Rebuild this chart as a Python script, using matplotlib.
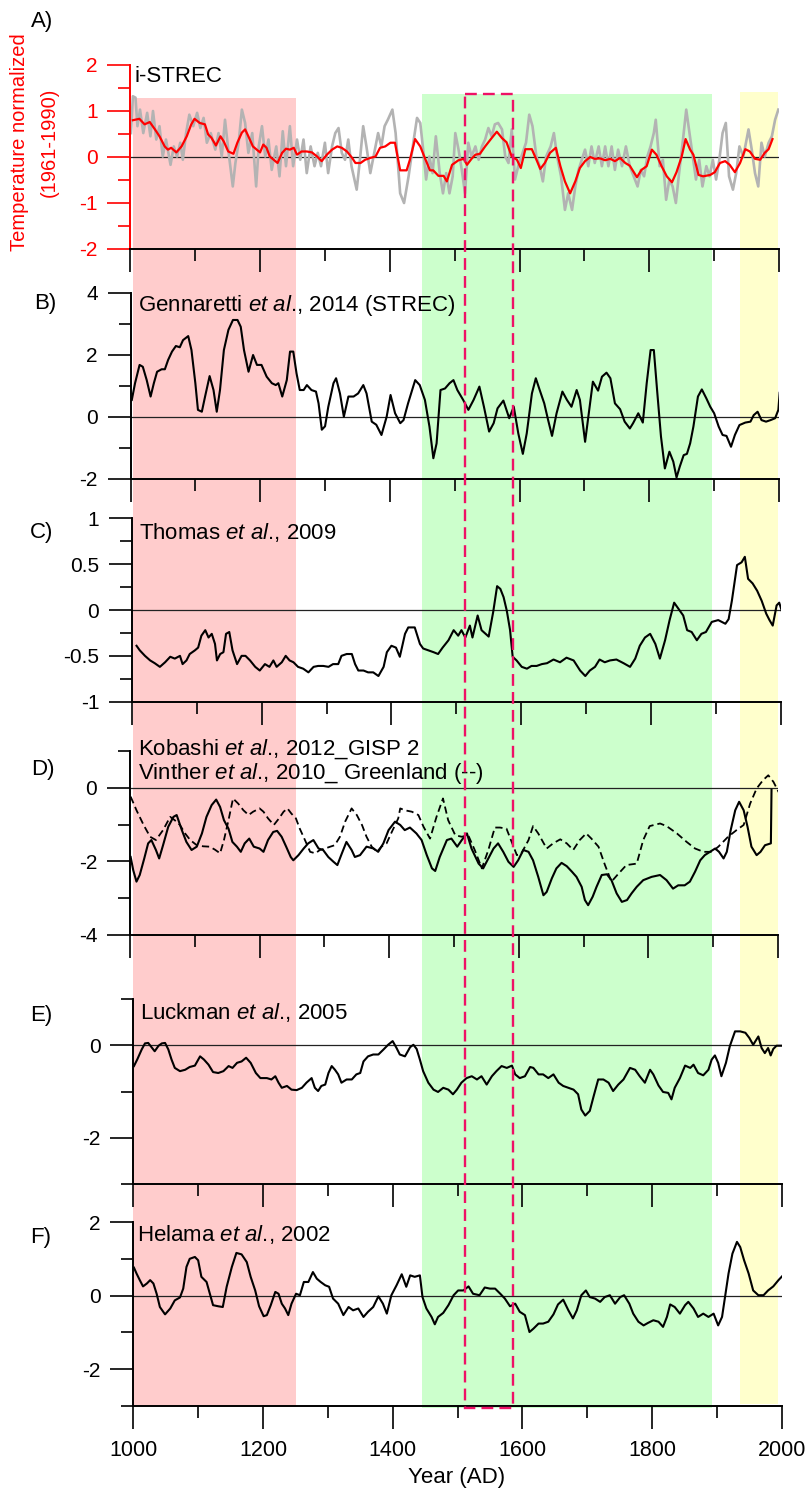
import matplotlib
matplotlib.use('Agg')
import matplotlib.pyplot as plt
from matplotlib.patches import Rectangle
from matplotlib.ticker import MultipleLocator, FuncFormatter

plt.rcParams['font.family'] = ['Liberation Sans', 'DejaVu Sans']
plt.rcParams['mathtext.fontset'] = 'custom'
plt.rcParams['mathtext.rm'] = 'Liberation Sans'
plt.rcParams['mathtext.it'] = 'Liberation Sans:italic'
plt.rcParams['axes.unicode_minus'] = False

# ---------------- data (year, value) ----------------
A_GRAY = [(1001,0.52),(1004,1.32),(1008,1.29),(1011,0.67),(1015,1.03),(1020,0.52),(1026,0.96),(1031,0.45),(1035,1.00),(1040,0.38),
          (1045,0.67),(1050,0.01),(1055,0.38),(1062,-0.17),(1067,0.23),(1072,0.01),(1077,0.31),(1081,-0.06),(1086,0.52),(1091,0.92),
          (1097,0.67),(1103,0.96),(1108,0.63),(1113,0.85),(1118,0.31),(1124,0.52),(1131,0.16),(1136,0.52),(1141,0.01),(1146,0.81),
          (1151,0.16),(1158,-0.64),(1162,-0.13),(1167,0.31),(1172,1.03),(1177,0.74),(1182,0.09),(1188,0.52),(1194,-0.64),(1198,0.23),
          (1203,0.67),(1208,0.01),(1213,0.38),(1218,-0.28),(1225,0.23),(1230,-0.42),(1235,0.56),(1240,-0.20),(1246,0.67),(1251,-0.20),
          (1257,0.38),(1262,-0.06),(1267,0.38),(1272,-0.35),(1278,0.23),(1284,-0.20),(1289,0.09),(1294,-0.20),(1300,0.31),(1305,-0.35),
          (1311,0.23),(1316,0.52),(1321,0.63),(1326,0.09),(1331,-0.06),(1336,0.38),(1341,-0.20),(1349,-0.71),(1354,-0.06),(1359,0.67),
          (1364,0.23),(1370,-0.35),(1375,0.01),(1382,0.52),(1387,0.23),(1392,0.67),(1397,0.81),(1404,1.03),(1409,0.52),
          (1416,-0.79),(1422,-1.00),(1429,-0.42),(1437,0.38),(1442,0.85),(1447,0.74),(1452,0.09),(1456,-0.49),(1461,0.01),(1466,-0.35),
          (1471,0.45),(1477,-0.35),(1482,-0.79),(1487,-0.35),(1492,-0.79),(1497,-0.42),(1501,0.52),(1506,0.16),(1511,-0.28),(1516,-0.79),
          (1521,0.31),(1526,0.01),(1532,0.23),(1537,-0.06),(1542,0.23),(1547,0.38),(1552,0.63),(1557,0.45),(1562,0.71),(1567,0.74),
          (1573,0.60),(1578,0.01),(1583,-0.13),(1588,0.60),(1593,-0.49),(1598,-0.20),(1603,0.01),(1610,0.31),(1615,0.92),(1620,0.67),
          (1626,0.01),(1631,-0.20),(1636,-0.53),(1641,0.01),(1648,0.23),(1653,0.52),(1658,0.01),(1664,-0.42),(1670,-1.15),(1675,-0.79),
          (1681,-1.15),(1686,-0.64),(1691,-0.28),(1696,-0.06),(1701,0.16),(1706,-0.20),(1711,0.23),(1716,-0.13),(1722,0.23),(1727,-0.20),
          (1732,0.23),(1737,-0.20),(1742,0.23),(1747,-0.28),(1752,0.16),(1758,-0.20),(1764,0.23),(1770,-0.20),(1776,-0.42),(1782,-0.64),
          (1787,-0.28),(1792,-0.42),(1797,0.01),(1802,0.23),(1807,0.52),(1810,0.81),(1816,-0.20),(1821,-0.06),(1826,-0.93),(1831,-0.49),
          (1836,-0.64),(1841,-1.00),(1846,-0.35),(1852,0.38),(1857,1.03),(1862,0.52),(1867,0.01),(1872,-0.49),(1877,-0.06),(1882,-0.64),
          (1888,-0.20),(1893,-0.42),(1898,-0.06),(1903,-0.49),(1908,-0.06),(1913,0.52),(1918,0.74),(1923,-0.42),(1929,-0.71),(1934,-0.35),
          (1939,0.23),(1945,0.01),(1953,0.60),(1958,0.16),(1963,-0.35),(1968,-0.64),(1973,0.31),(1978,0.01),(1984,0.31),(1989,0.45),
          (1994,0.81),(1999,1.03)]

A_RED = [(1004,0.80),(1014,0.83),(1022,0.71),(1030,0.76),(1038,0.60),(1045,0.45),(1053,0.23),(1058,0.16),(1063,0.20),(1071,0.10),
         (1079,0.23),(1087,0.45),(1094,0.71),(1099,0.83),(1107,0.74),(1115,0.71),(1120,0.49),(1125,0.42),(1132,0.25),(1139,0.45),
         (1144,0.34),(1151,0.12),(1159,0.07),(1165,0.31),(1172,0.53),(1177,0.60),(1182,0.45),(1189,0.23),(1195,0.16),(1200,0.10),
         (1205,0.27),(1210,0.20),(1215,0.01),(1221,-0.06),(1227,-0.13),(1234,0.09),(1240,0.18),(1246,0.16),(1252,0.20),(1257,0.05),
         (1264,0.12),(1272,0.12),(1280,0.10),(1288,0.01),(1295,-0.09),(1303,0.05),(1311,0.16),(1319,0.23),(1326,0.20),(1334,0.12),
         (1342,-0.02),(1347,-0.13),(1355,-0.13),(1362,-0.06),(1370,-0.02),(1378,0.01),(1385,0.20),(1393,0.23),(1401,0.31),(1408,0.31),
         (1416,-0.29),(1426,-0.29),(1431,-0.06),(1439,0.39),(1447,0.23),(1454,-0.02),(1462,-0.29),(1467,-0.29),(1475,-0.41),(1483,-0.41),
         (1488,-0.53),(1496,-0.17),(1506,-0.07),(1514,-0.04),(1519,-0.17),(1526,-0.04),(1532,0.05),(1539,0.07),(1547,0.23),(1557,0.41),
         (1565,0.55),(1573,0.41),(1580,0.32),(1588,0.01),(1596,-0.06),(1602,-0.24),(1609,0.17),(1619,0.17),(1627,-0.09),(1632,-0.26),
         (1639,-0.13),(1647,0.09),(1656,0.20),(1663,-0.20),(1670,-0.53),(1678,-0.79),(1686,-0.53),(1693,-0.24),(1701,-0.09),(1709,0.00),
         (1716,-0.04),(1724,-0.03),(1732,-0.07),(1740,-0.04),(1747,-0.09),(1755,-0.02),(1763,-0.13),(1770,-0.19),(1781,-0.44),(1788,-0.28),
         (1796,-0.20),(1804,0.16),(1811,0.05),(1819,-0.20),(1827,-0.42),(1835,-0.55),(1842,-0.33),(1850,0.01),(1856,0.39),(1863,0.16),
         (1868,0.05),(1876,-0.39),(1883,-0.42),(1894,-0.39),(1901,-0.33),(1909,-0.13),(1917,-0.09),(1924,-0.17),(1932,-0.33),(1940,-0.13),
         (1948,0.17),(1955,0.12),(1963,-0.04),(1971,-0.06),(1978,0.09),(1984,0.17),(1990,0.39)]

B_STREC = [(1002,0.55),(1007,1.09),(1014,1.68),(1019,1.62),(1025,1.19),(1031,0.66),(1036,1.09),(1041,1.46),(1048,1.54),(1053,1.54),
           (1058,1.84),(1064,2.11),(1070,2.29),(1076,2.25),(1081,2.48),(1089,2.61),(1094,2.16),(1100,1.09),(1104,0.23),(1110,0.17),
           (1115,0.66),(1122,1.32),(1128,0.87),(1133,0.17),(1138,0.87),(1144,2.16),(1151,2.81),(1158,3.13),(1165,3.13),(1170,2.91),
           (1175,2.16),(1182,1.46),(1189,2.00),(1195,1.68),(1202,1.68),(1210,1.30),(1218,1.09),(1224,1.03),(1228,1.09),(1234,0.66),
           (1241,1.19),(1246,2.11),(1251,2.11),(1256,1.41),(1261,0.87),(1267,0.87),(1272,1.03),(1279,0.87),(1286,0.82),(1290,0.44),
           (1295,-0.41),(1300,-0.30),(1305,0.33),(1313,1.09),(1317,1.25),(1323,0.76),(1329,0.01),(1336,0.66),(1344,0.66),(1351,0.76),
           (1359,1.03),(1364,0.76),(1372,-0.15),(1379,-0.25),(1387,-0.58),(1395,0.01),(1401,0.71),(1408,0.12),
           (1416,-0.20),(1421,-0.10),(1428,0.44),(1439,1.19),(1446,1.03),(1454,0.55),(1461,-0.31),(1467,-1.33),(1472,-0.85),(1478,0.87),
           (1485,0.92),(1492,1.09),(1498,1.19),(1504,0.87),(1513,0.55),(1521,0.23),(1529,0.55),(1538,0.98),(1545,0.33),(1553,-0.47),
           (1560,-0.20),(1566,0.28),(1575,0.53),(1584,-0.04),(1591,0.33),(1598,-0.53),(1605,-1.19),(1611,-0.53),(1619,0.76),(1625,1.25),
           (1631,0.87),(1638,0.44),(1644,-0.10),(1650,-0.61),(1657,0.12),(1666,0.82),(1673,0.55),(1680,0.33),(1688,0.87),(1693,0.55),
           (1701,-0.80),(1706,0.01),(1713,1.14),(1721,0.85),(1727,1.30),(1734,1.43),(1740,1.25),(1747,0.44),(1755,0.25),(1762,-0.15),
           (1770,-0.37),(1775,-0.20),(1783,0.12),(1790,-0.18),(1796,1.09),(1802,2.16),(1807,2.16),(1812,0.87),(1818,-0.63),(1824,-1.66),
           (1831,-1.12),(1837,-1.44),(1842,-1.95),(1847,-1.60),(1853,-1.23),(1858,-1.19),(1863,-0.85),(1868,-0.31),(1875,0.66),(1881,0.89),
           (1888,0.60),(1894,0.33),(1900,0.12),(1907,-0.31),(1913,-0.58),(1919,-0.61),(1926,-0.96),(1932,-0.58),(1939,-0.26),(1948,-0.18),
           (1956,-0.15),(1961,0.06),(1967,0.17),(1973,-0.10),(1980,-0.15),(1987,-0.10),(1994,-0.04),(1999,0.23),(2001,0.78)]

C_THOMAS = [(1007,-0.39),(1012,-0.44),(1020,-0.50),(1028,-0.55),(1035,-0.58),(1043,-0.62),(1051,-0.57),(1059,-0.51),(1066,-0.53),(1074,-0.50),
            (1078,-0.59),(1084,-0.55),(1089,-0.48),(1097,-0.44),(1102,-0.41),(1107,-0.28),(1113,-0.22),(1118,-0.30),(1123,-0.26),(1128,-0.37),
            (1131,-0.55),(1136,-0.48),(1141,-0.46),(1145,-0.26),(1150,-0.24),(1155,-0.44),(1162,-0.59),(1169,-0.50),(1175,-0.50),(1182,-0.55),
            (1190,-0.62),(1197,-0.66),(1205,-0.59),(1212,-0.62),(1218,-0.55),(1223,-0.62),(1231,-0.57),(1237,-0.50),(1243,-0.55),(1249,-0.57),
            (1256,-0.62),(1264,-0.64),(1272,-0.68),(1280,-0.62),(1287,-0.61),(1295,-0.61),(1303,-0.62),(1310,-0.59),(1318,-0.59),(1323,-0.50),
            (1331,-0.48),(1339,-0.48),(1344,-0.59),(1349,-0.66),(1357,-0.66),(1364,-0.68),(1372,-0.68),(1380,-0.72),(1388,-0.62),(1393,-0.46),
            (1400,-0.39),(1407,-0.41),
            (1413,-0.51),(1421,-0.26),(1426,-0.19),(1436,-0.19),(1444,-0.37),(1449,-0.42),(1457,-0.44),(1465,-0.46),(1472,-0.48),(1479,-0.41),
            (1488,-0.33),(1496,-0.22),(1503,-0.28),(1508,-0.22),(1514,-0.30),(1521,-0.17),(1525,-0.30),(1533,-0.06),(1539,-0.22),(1550,-0.29),
            (1557,-0.02),(1563,0.26),(1568,0.23),(1573,0.14),(1578,-0.01),(1583,-0.22),(1587,-0.51),(1593,-0.55),(1601,-0.62),(1609,-0.64),
            (1616,-0.61),(1624,-0.61),(1632,-0.59),(1640,-0.58),(1650,-0.54),(1660,-0.57),(1670,-0.52),(1681,-0.55),(1691,-0.66),(1699,-0.72),
            (1706,-0.66),(1714,-0.62),(1721,-0.54),(1729,-0.57),(1737,-0.55),(1747,-0.54),(1758,-0.58),(1768,-0.62),(1776,-0.53),(1783,-0.39),
            (1791,-0.30),(1799,-0.26),(1807,-0.37),(1814,-0.53),(1822,-0.33),(1829,-0.11),(1836,0.08),(1843,0.01),(1850,-0.06),(1856,-0.22),
            (1863,-0.24),(1871,-0.33),(1878,-0.26),(1885,-0.24),(1894,-0.13),(1904,-0.11),(1915,-0.15),(1920,-0.10),(1925,0.10),(1933,0.49),
            (1940,0.52),(1945,0.58),(1950,0.34),(1957,0.29),(1964,0.21),(1971,0.10),(1978,-0.04),(1983,-0.11),(1988,-0.17),(1994,0.05),
            (1998,0.08),(2002,-0.01)]

D_KOBASHI = [(1001,-1.88),(1005,-2.24),(1010,-2.55),(1015,-2.37),(1022,-1.92),(1028,-1.51),(1033,-1.42),(1040,-1.69),(1045,-1.92),(1051,-1.56),
             (1059,-1.06),(1067,-0.79),(1072,-0.74),(1080,-1.15),(1087,-1.47),(1095,-1.69),(1103,-1.60),(1111,-1.24),(1118,-0.79),(1126,-0.47),
             (1133,-0.32),(1139,-0.52),(1145,-0.88),(1152,-1.11),(1158,-1.47),(1165,-1.60),(1171,-1.74),(1177,-1.51),(1184,-1.38),(1191,-1.60),
             (1200,-1.65),(1206,-1.74),(1213,-1.42),(1221,-1.20),(1227,-1.17),(1234,-1.33),(1241,-1.60),(1248,-1.88),(1252,-1.97),(1260,-1.83),
             (1268,-1.65),(1275,-1.51),(1283,-1.42),(1291,-1.65),(1298,-1.69),(1306,-1.88),(1314,-2.01),(1320,-2.10),(1327,-1.78),(1334,-1.47),
             (1342,-1.69),(1347,-1.88),(1355,-1.83),(1365,-1.60),(1376,-1.65),(1383,-1.74),(1391,-1.51),(1399,-1.15),(1409,-0.92),
             (1417,-1.01),(1424,-1.15),(1432,-1.08),(1442,-1.24),(1450,-1.42),(1458,-1.83),(1466,-2.19),(1471,-2.26),(1478,-1.88),(1489,-1.42),
             (1496,-1.38),(1505,-1.60),(1512,-1.42),(1520,-1.24),(1527,-1.65),(1538,-2.06),(1545,-2.19),(1553,-1.92),(1561,-1.65),(1568,-1.51),
             (1576,-1.74),(1584,-2.01),(1592,-2.15),(1599,-1.97),(1607,-1.69),(1615,-1.74),(1622,-1.97),(1630,-2.42),(1638,-2.92),(1643,-2.83),
             (1651,-2.46),(1658,-2.19),(1666,-2.04),(1674,-2.13),(1682,-2.28),(1689,-2.42),(1697,-2.69),(1702,-3.05),(1707,-3.19),(1714,-2.96),
             (1720,-2.69),(1728,-2.37),(1736,-2.35),(1743,-2.51),(1751,-2.87),(1759,-3.10),(1767,-3.05),(1774,-2.87),(1782,-2.69),(1792,-2.51),
             (1805,-2.42),(1818,-2.37),(1828,-2.51),(1838,-2.74),(1846,-2.65),(1856,-2.65),(1864,-2.55),(1872,-2.28),(1880,-1.97),(1887,-1.83),
             (1895,-1.74),(1903,-1.65),(1909,-1.74),(1916,-1.92),(1921,-1.74),(1927,-1.15),(1934,-0.61),(1940,-0.38),(1947,-0.61),(1953,-1.06),
             (1959,-1.60),(1967,-1.83),(1973,-1.74),(1980,-1.56),(1989,-1.51),(1990,-0.05)]

D_VINTHER = [(1001,-0.24),(1010,-0.61),(1021,-1.01),(1031,-1.33),(1040,-1.42),(1051,-1.15),(1062,-0.79),(1069,-0.88),(1077,-1.01),(1085,-1.24),
             (1093,-1.42),(1103,-1.56),(1113,-1.59),(1123,-1.60),(1131,-1.68),(1139,-1.78),(1145,-1.42),(1152,-0.88),(1159,-0.29),(1167,-0.43),
             (1175,-0.61),(1183,-0.74),(1190,-0.65),(1200,-0.56),(1206,-0.65),(1213,-0.83),(1222,-1.01),(1230,-0.83),(1237,-0.65),(1243,-0.56),
             (1249,-0.70),(1256,-0.83),(1262,-1.11),(1270,-1.42),(1278,-1.74),(1286,-1.78),(1293,-1.69),(1301,-1.65),(1309,-1.60),(1316,-1.56),
             (1324,-1.33),(1332,-0.92),(1342,-0.56),(1350,-0.74),(1358,-1.01),(1365,-1.33),(1373,-1.60),(1381,-1.74),(1388,-1.60),(1396,-1.51),
             (1404,-1.20),(1414,-0.83),
             (1417,-0.56),(1424,-0.61),(1435,-0.65),(1445,-0.74),(1453,-1.06),(1463,-1.38),(1473,-0.79),(1483,-0.29),(1491,-0.88),(1502,-1.29),
             (1512,-1.33),(1522,-1.29),(1532,-1.69),(1543,-2.19),(1553,-1.69),(1563,-1.08),(1571,-1.08),(1581,-1.11),(1589,-1.47),(1597,-1.83),
             (1604,-1.78),(1615,-1.42),(1622,-1.04),(1630,-1.24),(1643,-1.65),(1653,-1.51),(1664,-1.40),(1674,-1.51),(1684,-1.69),(1694,-1.42),
             (1704,-1.24),(1712,-1.38),(1723,-1.60),(1733,-2.10),(1743,-2.55),(1754,-2.33),(1766,-2.10),(1782,-2.06),(1792,-1.42),(1802,-1.04),
             (1818,-0.97),(1828,-1.04),(1844,-1.24),(1859,-1.47),(1872,-1.65),(1885,-1.74),(1898,-1.74),(1908,-1.60),(1923,-1.33),(1936,-1.15),
             (1947,-1.01),(1957,-0.43),(1967,-0.02),(1977,0.21),(1985,0.34),(1993,0.16),(2002,-0.15)]

E_LUCKMAN = [(1001,-0.45),(1006,-0.31),(1013,-0.09),(1018,0.04),(1023,0.05),(1028,-0.04),(1033,-0.13),(1039,-0.01),(1044,0.04),(1049,0.05),
             (1054,-0.09),(1059,-0.31),(1064,-0.49),(1072,-0.56),(1080,-0.53),(1087,-0.47),(1095,-0.44),(1103,-0.24),(1109,-0.31),(1116,-0.42),
             (1123,-0.58),(1131,-0.60),(1139,-0.56),(1147,-0.45),(1153,-0.49),(1160,-0.38),(1167,-0.35),(1174,-0.27),(1181,-0.38),(1189,-0.60),
             (1196,-0.71),(1206,-0.71),(1213,-0.74),(1219,-0.67),(1224,-0.81),(1229,-0.92),(1237,-0.88),(1244,-0.96),(1252,-0.97),(1260,-0.92),
             (1267,-0.81),(1275,-0.71),(1280,-0.92),(1285,-0.99),(1290,-0.88),(1296,-0.85),(1301,-0.60),(1306,-0.45),(1311,-0.53),(1316,-0.63),
             (1321,-0.81),(1329,-0.74),(1337,-0.74),(1344,-0.63),(1350,-0.60),(1355,-0.35),(1362,-0.24),(1370,-0.20),(1378,-0.20),(1386,-0.09),
             (1393,0.01),(1400,0.09),(1406,-0.06),
             (1411,-0.20),(1419,-0.24),(1427,-0.04),(1432,0.01),(1437,-0.08),(1442,-0.31),(1447,-0.56),(1455,-0.81),(1463,-0.96),(1470,-1.01),
             (1478,-0.92),(1486,-0.96),(1493,-1.06),(1499,-0.96),(1506,-0.81),(1514,-0.71),(1522,-0.67),(1530,-0.74),(1537,-0.67),(1545,-0.85),
             (1553,-0.67),(1560,-0.56),(1568,-0.45),(1576,-0.49),(1584,-0.44),(1589,-0.63),(1596,-0.71),(1604,-0.67),(1612,-0.47),(1617,-0.49),
             (1625,-0.63),(1632,-0.63),(1640,-0.71),(1648,-0.63),(1656,-0.81),(1663,-0.88),(1671,-0.92),(1679,-0.96),(1686,-1.06),(1691,-1.39),
             (1697,-1.52),(1704,-1.42),(1710,-1.10),(1717,-0.74),(1725,-0.74),(1733,-0.81),(1740,-0.99),(1748,-0.85),(1756,-0.74),(1766,-0.49),
             (1774,-0.53),(1781,-0.67),(1789,-0.81),(1797,-0.53),(1802,-0.63),(1810,-0.87),(1817,-1.01),(1825,-1.03),(1830,-1.17),(1835,-0.92),
             (1843,-0.71),(1851,-0.44),(1859,-0.49),(1864,-0.42),(1871,-0.60),(1879,-0.65),(1887,-0.53),(1892,-0.31),(1897,-0.22),(1902,-0.38),
             (1907,-0.67),(1914,-0.38),(1920,-0.02),(1928,0.30),(1936,0.30),(1944,0.27),(1950,0.16),(1956,0.01),(1964,0.19),(1969,-0.06),
             (1974,-0.17),(1979,-0.06),(1983,-0.22),(1987,-0.08),(1992,-0.01),(2002,-0.01)]

F_HELAMA = [(1001,0.76),(1005,0.60),(1010,0.42),(1015,0.25),(1021,0.33),(1026,0.42),(1031,0.33),(1036,0.05),(1041,-0.31),(1049,-0.51),
            (1057,-0.35),(1064,-0.13),(1072,-0.05),(1077,0.19),(1082,0.78),(1087,1.00),(1095,1.05),(1100,0.96),(1105,0.51),(1113,0.37),
            (1118,0.05),(1123,-0.26),(1131,-0.29),(1138,-0.31),(1144,0.24),(1152,0.78),(1159,1.16),(1167,1.12),(1175,0.91),(1181,0.51),
            (1188,0.14),(1194,-0.29),(1201,-0.56),(1206,-0.53),(1212,-0.26),(1219,0.10),(1224,0.05),(1229,-0.22),(1234,-0.35),(1239,-0.53),
            (1244,-0.22),(1251,0.05),(1257,0.01),(1263,0.37),(1270,0.37),(1277,0.64),(1283,0.46),(1289,0.37),(1296,0.28),(1302,0.24),
            (1308,-0.08),(1316,-0.22),(1324,-0.53),(1332,-0.31),(1339,-0.40),(1347,-0.35),(1355,-0.58),(1362,-0.44),(1370,-0.31),(1378,-0.02),
            (1385,-0.22),(1391,-0.49),(1398,0.01),(1406,0.28),
            (1414,0.58),(1421,0.24),(1427,0.55),(1434,0.51),(1442,0.55),(1446,-0.04),(1452,-0.35),(1460,-0.58),(1465,-0.78),(1470,-0.58),
            (1478,-0.47),(1486,-0.26),(1494,0.01),(1501,0.14),(1509,0.14),(1517,0.25),(1524,0.05),(1534,0.01),(1542,0.22),(1550,0.19),
            (1558,0.19),(1566,0.05),(1573,-0.08),(1581,-0.29),(1589,-0.22),(1596,-0.44),(1604,-0.53),(1611,-0.99),(1617,-0.90),(1625,-0.76),
            (1632,-0.76),(1640,-0.71),(1648,-0.51),(1655,-0.24),(1663,-0.11),(1671,-0.40),(1678,-0.62),(1684,-0.40),(1691,0.01),(1698,0.14),
            (1704,-0.04),(1712,-0.08),(1720,-0.17),(1727,-0.04),(1735,0.01),(1743,-0.22),(1751,-0.04),(1757,0.01),(1765,-0.22),(1771,-0.49),
            (1779,-0.71),(1787,-0.81),(1794,-0.74),(1802,-0.67),(1810,-0.71),(1817,-0.85),(1823,-0.58),(1828,-0.24),(1835,-0.31),(1843,-0.49),
            (1851,-0.26),(1856,-0.17),(1864,-0.35),(1871,-0.58),(1879,-0.49),(1887,-0.58),(1895,-0.49),(1902,-0.81),(1908,-0.58),(1913,0.01),
            (1918,0.60),(1924,1.14),(1931,1.46),(1936,1.32),(1942,0.96),(1949,0.60),(1956,0.14),(1964,0.01),(1972,0.01),(1979,0.14),
            (1987,0.25),(1995,0.42),(2002,0.55)]

# climate periods shaded across all panels and the highlighted window
PERIODS = [(1000, 1251, '#ffcccc'), (1446, 1892, '#ccffcc'), (1935, 1994, '#ffffcc')]
WINDOW = (1511, 1586)

X_TICKS = [1000, 1200, 1400, 1600, 1800, 2000]

# ---------------- layout ----------------
W, H = 810, 1491
fig = plt.figure(figsize=(W / 100, H / 100), dpi=100)


def px_axes(left, right, top, bottom, z=1):
    ax = fig.add_axes([left / W, 1 - bottom / H, (right - left) / W, (bottom - top) / H])
    ax.set_zorder(z)
    return ax


def ftext(x, y, s, **kw):
    return fig.text(x / W, 1 - y / H, s, **kw)


# background shading
ax_bg = px_axes(133.3, 781.7, 0, H, z=0)
ax_bg.set_xlim(1000, 2000)
ax_bg.set_ylim(H, 0)
ax_bg.axis('off')
shade_tb = [(98, 1406), (94, 1408), (92, 1404)]
for (x0, x1, c), (tp, bt) in zip(PERIODS, shade_tb):
    ax_bg.add_patch(Rectangle((x0, tp), x1 - x0, bt - tp, facecolor=c, edgecolor='none'))

# dashed window overlay
ax_ov = px_axes(133.3, 781.7, 0, H, z=10)
ax_ov.set_xlim(1000, 2000)
ax_ov.set_ylim(H, 0)
ax_ov.axis('off')
ax_ov.add_patch(Rectangle((WINDOW[0], 94), WINDOW[1] - WINDOW[0], 1408 - 94, facecolor='none',
                          edgecolor='#ee1166', lw=1.7, linestyle=(0, (5, 2.6))))

fmt = FuncFormatter(lambda v, p: '0' if abs(v) < 1e-9 else f'{v:g}')

panels = {
    'A': dict(x=(130.3, 779), y=(65, 249), ylim=(-2, 2), maj=1, mn=0.5),
    'B': dict(x=(130.5, 779), y=(293, 479), ylim=(-2, 4), maj=2, mn=1),
    'C': dict(x=(132, 780.5), y=(518.3, 701.7), ylim=(-1, 1), maj=0.5, mn=0.25),
    'D': dict(x=(130, 778), y=(751, 935), ylim=(-4, 1), maj=2, mn=1),
    'E': dict(x=(133.3, 781.7), y=(999, 1184), ylim=(-3, 1), maj=2, mn=1),
    'F': dict(x=(133.3, 781.7), y=(1222, 1406), ylim=(-3, 2), maj=2, mn=1),
}

axes = {}
for key, p in panels.items():
    ax = px_axes(p['x'][0], p['x'][1], p['y'][0], p['y'][1], z=2)
    ax.patch.set_alpha(0)
    ax.set_xlim(1000, 2000)
    ax.set_ylim(*p['ylim'])
    for s in ('top', 'right'):
        ax.spines[s].set_visible(False)
    for s in ('left', 'bottom'):
        ax.spines[s].set_linewidth(1.4)
    ax.yaxis.set_major_locator(MultipleLocator(p['maj']))
    ax.yaxis.set_minor_locator(MultipleLocator(p['mn']))
    ax.yaxis.set_major_formatter(fmt)
    ax.set_xticks(X_TICKS)
    ax.xaxis.set_minor_locator(MultipleLocator(100))
    ax.tick_params(which='major', length=16.5, width=1.2, direction='out')
    ax.tick_params(which='minor', length=8.5, width=1.2, direction='out')
    ax.tick_params(axis='y', labelsize=15, pad=7)
    ax.tick_params(axis='x', labelsize=15.5, pad=8, labelbottom=(key == 'F'))
    ax.axhline(0, color='#222222', lw=0.9, zorder=1)
    axes[key] = ax


def plot_series(ax, series, **kw):
    xs = [a for a, b in series]
    ys = [b for a, b in series]
    ax.plot(xs, ys, **kw)


plot_series(axes['A'], A_GRAY, color='#b3b3b3', lw=1.9, zorder=2)
plot_series(axes['A'], A_RED, color='#ff0000', lw=1.6, zorder=3)
plot_series(axes['B'], B_STREC, color='black', lw=1.5, zorder=3)
plot_series(axes['C'], C_THOMAS, color='black', lw=1.5, zorder=3)
plot_series(axes['D'], D_VINTHER, color='black', lw=1.3, linestyle=(0, (4, 2.2)), zorder=3)
plot_series(axes['D'], D_KOBASHI, color='black', lw=1.5, zorder=3)
plot_series(axes['E'], E_LUCKMAN, color='black', lw=1.5, zorder=3)
plot_series(axes['F'], F_HELAMA, color='black', lw=1.5, zorder=3)

# panel A red axis
axA = axes['A']
axA.spines['left'].set_color('red')
axA.tick_params(axis='y', which='both', colors='red')

# texts
TF = 16
ftext(20, 142, 'Temperature normalized', rotation=90, color='red', ha='center', va='center', fontsize=14.5)
ftext(49, 142, '(1961-1990)', rotation=90, color='red', ha='center', va='center', fontsize=14.5)

for lab, (lx, ly) in {'A)': (31, 22), 'B)': (34, 303), 'C)': (30, 532), 'D)': (31, 769),
                      'E)': (30, 1015), 'F)': (30, 1237)}.items():
    ftext(lx, ly, lab, ha='left', va='center', fontsize=TF)

ETAL = r'$\mathit{et\ al}$.'
ftext(135, 77, 'i-STREC', ha='left', va='center', fontsize=TF)
ftext(138, 305, 'Gennaretti ' + ETAL + ', 2014 (STREC)', ha='left', va='center', fontsize=TF)
ftext(139, 532, 'Thomas ' + ETAL + ', 2009', ha='left', va='center', fontsize=TF)
ftext(138, 749, 'Kobashi ' + ETAL + ', 2012_GISP 2', ha='left', va='center', fontsize=TF)
ftext(138, 774, 'Vinther ' + ETAL + ', 2010_ Greenland (--)', ha='left', va='center', fontsize=TF)
ftext(140, 1013, 'Luckman ' + ETAL + ', 2005', ha='left', va='center', fontsize=TF)
ftext(137, 1234, 'Helama ' + ETAL + ', 2002', ha='left', va='center', fontsize=TF)

ftext(457, 1478, 'Year (AD)', ha='center', va='center', fontsize=TF)

fig.savefig('out.png', dpi=100)
